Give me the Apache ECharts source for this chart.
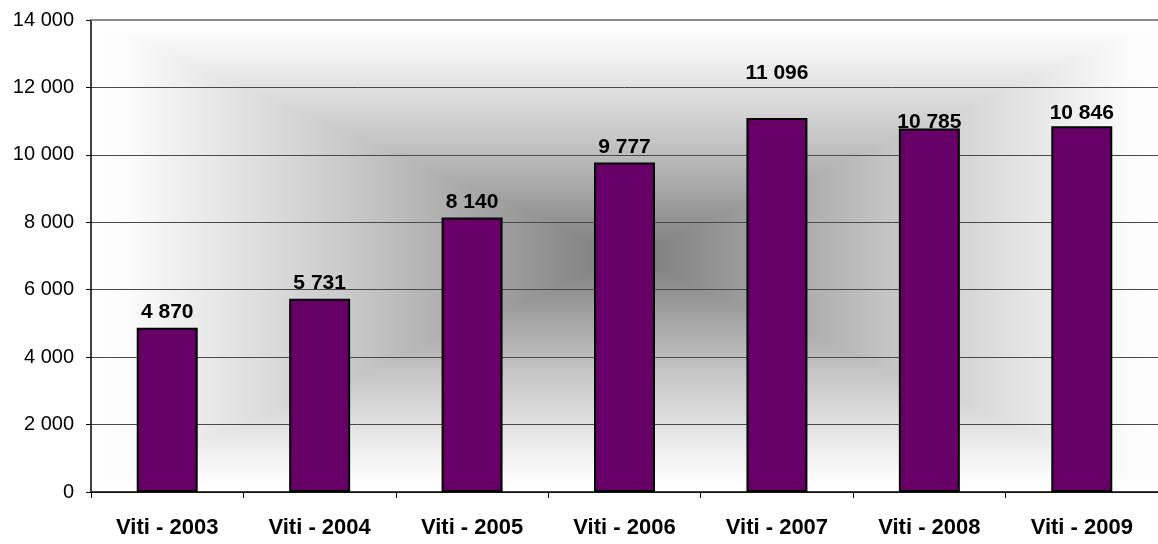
<!DOCTYPE html>
<html>
<head>
<meta charset="utf-8">
<script src="https://cdn.jsdelivr.net/npm/echarts@6/dist/echarts.min.js"></script>
<style>
  html, body { margin: 0; padding: 0; background: #ffffff; }
  #chart { width: 1158px; height: 544px; }
</style>
</head>
<body>
<div id="chart"></div>
<script>
// ---- data ----
const categories = ['Viti - 2003', 'Viti - 2004', 'Viti - 2005', 'Viti - 2006', 'Viti - 2007', 'Viti - 2008', 'Viti - 2009'];
const values = [4870, 5731, 8140, 9777, 11096, 10785, 10846];
const yTicks = [0, 2000, 4000, 6000, 8000, 10000, 12000, 14000];

// ---- layout / style ----
const FONT = "'Liberation Sans', Arial, sans-serif";
const G = { left: 91, right: -7, top: 20, bottom: 52 };
const W = 1158, H = 544;
const L = G.left, R = W - G.right, T = G.top, B = H - G.bottom;
const CX = (L + R) / 2, CY = (T + B) / 2;
// shading profile from plot edge (0) to plot centre (1)
const shade = [
  [0, '#ffffff'], [0.06, '#fcfcfc'], [0.28, '#e2e2e2'],
  [0.52, '#c4c4c4'], [0.76, '#a0a0a0'], [1, '#7a7a7a']
];
// label nudges to mimic the original label placement
const labelNudge = { 4: -29, 5: 9, 6: 2 };

function fmt(v) { return String(v).replace(/\B(?=(\d{3})+(?!\d))/g, ' '); }

function grad(x, y, x2, y2) {
  return {
    type: 'linear', x: x, y: y, x2: x2, y2: y2,
    colorStops: shade.map(function (s) { return { offset: s[0], color: s[1] }; })
  };
}
const vertStops = shade.map(function (s) { return { offset: s[0] / 2, color: s[1] }; })
  .concat(shade.slice(0, -1).reverse().map(function (s) { return { offset: 1 - s[0] / 2, color: s[1] }; }));
const vertGrad = { type: 'linear', x: 0, y: 0, x2: 0, y2: 1, colorStops: vertStops };

const chart = echarts.init(document.getElementById('chart'), null, { renderer: 'canvas' });

const option = {
  animation: false,
  backgroundColor: '#ffffff',
  graphic: [
    { type: 'rect', z: -10, silent: true, shape: { x: L, y: T, width: R - L, height: B - T }, style: { fill: vertGrad } },
    { type: 'polygon', z: -9, silent: true, shape: { points: [[L, T], [L, B], [CX, CY]] }, style: { fill: grad(0, 0, 1, 0) } },
    { type: 'polygon', z: -9, silent: true, shape: { points: [[R, T], [R, B], [CX, CY]] }, style: { fill: grad(1, 0, 0, 0) } },
    { type: 'line', z: 100, silent: true, shape: { x1: L, y1: T, x2: R, y2: T }, style: { stroke: '#8c8c8c', lineWidth: 2 } }
  ],
  grid: { left: G.left, right: G.right, top: G.top, bottom: G.bottom, containLabel: false },
  xAxis: {
    type: 'category',
    data: categories,
    boundaryGap: true,
    axisLine: { show: true, lineStyle: { color: '#000000', width: 1.5 } },
    axisTick: { show: true, alignWithLabel: false, length: 6, lineStyle: { color: '#000000', width: 1 } },
    axisLabel: { color: '#000000', fontFamily: FONT, fontSize: 22, fontWeight: 'bold', margin: 25, interval: 0 },
    splitLine: { show: false }
  },
  yAxis: {
    type: 'value',
    min: yTicks[0],
    max: yTicks[yTicks.length - 1],
    interval: yTicks[1] - yTicks[0],
    axisLine: { show: true, lineStyle: { color: '#000000', width: 1.5 } },
    axisTick: { show: true, length: 5, lineStyle: { color: '#000000', width: 1 } },
    axisLabel: { color: '#000000', fontFamily: FONT, fontSize: 20, margin: 17, formatter: fmt },
    splitLine: { show: true, lineStyle: { color: '#4a4a4a', width: 1 } }
  },
  series: [{
    type: 'bar',
    barWidth: '40%',
    data: values.map(function (v, i) {
      return {
        value: v,
        label: { offset: [0, labelNudge[i] || 0] }
      };
    }),
    itemStyle: { color: '#660066', borderColor: '#000000', borderWidth: 2 },
    label: {
      show: true,
      position: 'top',
      distance: 5,
      color: '#000000',
      fontFamily: FONT,
      fontSize: 21,
      fontWeight: 'bold',
      formatter: function (p) { return fmt(p.value); }
    }
  }]
};

chart.setOption(option);
</script>
</body>
</html>
